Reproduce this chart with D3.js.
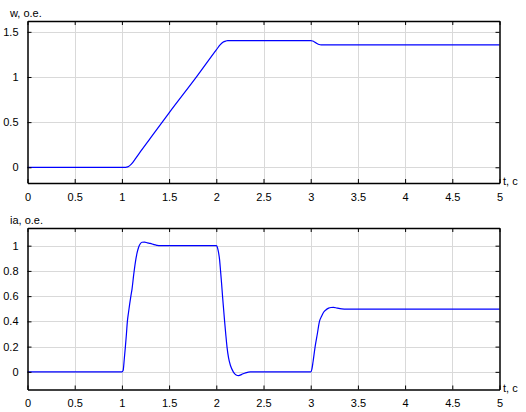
<!DOCTYPE html>
<html>
<head>
<meta charset="utf-8">
<script src="https://cdn.jsdelivr.net/npm/d3@7"></script>
<style>
  body { margin: 0; background: #fff; }
  text { font-family: "Liberation Sans", Arial, sans-serif; font-size: 11px; fill: #000; }
</style>
</head>
<body>
<div id="chart"></div>
<script>
var w = 526;
var h = 412;

// speed w (o.e.) vs time
var tW = [0, 1.04, 1.05, 1.07, 1.10, 1.15, 1.20, 1.30, 1.50, 1.80, 2.00, 2.04, 2.07, 2.10, 2.12, 3.00, 3.02, 3.04, 3.06, 3.08, 3.10, 3.12, 5];
var wVals = [0, 0, 0.001, 0.008, 0.035, 0.105, 0.178, 0.32, 0.603, 1.015, 1.30, 1.355, 1.385, 1.398, 1.402, 1.402, 1.398, 1.388, 1.374, 1.363, 1.357, 1.355, 1.355];

// current ia (o.e.) vs time
var tI = [0, 1.0, 1.013, 1.025, 1.037, 1.048, 1.058, 1.07, 1.083, 1.095, 1.108, 1.125, 1.143, 1.16, 1.178, 1.195, 1.213, 1.24, 1.27, 1.30, 1.34, 1.37, 1.40,
          2.0, 2.007, 2.02, 2.035, 2.045, 2.056, 2.066, 2.077, 2.088, 2.1, 2.113, 2.13, 2.15, 2.18, 2.21, 2.236, 2.27, 2.31, 2.36,
          3.0, 3.012, 3.025, 3.047, 3.07, 3.093, 3.115, 3.135, 3.16, 3.19, 3.215, 3.24, 3.28, 3.33, 3.38, 5];
var iaVals = [0, 0, 0.01, 0.1, 0.2, 0.3, 0.4, 0.47, 0.54, 0.6, 0.66, 0.77, 0.87, 0.94, 0.99, 1.015, 1.027, 1.028, 1.022, 1.018, 1.008, 1.003, 1.0,
              1.0, 0.995, 0.96, 0.887, 0.8, 0.7, 0.6, 0.5, 0.4, 0.3, 0.2, 0.11, 0.05, 0.0, -0.025, -0.03, -0.02, -0.008, 0,
              0, 0.02, 0.08, 0.2, 0.3, 0.4, 0.44, 0.47, 0.49, 0.505, 0.51, 0.511, 0.505, 0.499, 0.497, 0.497];

var xTicks = [0, 0.5, 1, 1.5, 2, 2.5, 3, 3.5, 4, 4.5, 5];
var wTicks = [0, 0.5, 1, 1.5];
var iaTicks = [0, 0.2, 0.4, 0.6, 0.8, 1];

var svg = d3.select("#chart")
            .append("svg")
            .attr("width", w)
            .attr("height", h);

function drawPanel(opt) {
    var x = d3.scaleLinear().domain([0, 5]).range([27.5, 499.5]);
    var y = d3.scaleLinear().domain(opt.yDomain).range([opt.bottom, opt.top]);
    var g = svg.append("g");

    // grid
    g.selectAll(".vgrid").data(xTicks.slice(1, -1)).enter()
        .append("line")
        .attr("x1", d => Math.round(x(d)) + 0.5).attr("x2", d => Math.round(x(d)) + 0.5)
        .attr("y1", opt.top).attr("y2", opt.bottom)
        .attr("stroke", "#d9d9d9");
    g.selectAll(".hgrid").data(opt.yTicks).enter()
        .append("line")
        .attr("x1", x(0)).attr("x2", x(5))
        .attr("y1", d => Math.round(y(d)) + 0.5).attr("y2", d => Math.round(y(d)) + 0.5)
        .attr("stroke", "#d9d9d9");

    // curve
    var line = d3.line()
        .x((d, i) => x(opt.t[i]))
        .y(d => y(d))
        .curve(d3.curveMonotoneX);
    g.append("path")
        .datum(opt.vals)
        .attr("d", line)
        .attr("fill", "none")
        .attr("stroke", "#0000ff")
        .attr("stroke-width", 1.2);

    // axes with inward ticks, mirrored on top and right
    var xAxis = d3.axisBottom(x).tickValues(xTicks).tickSizeInner(-4).tickSizeOuter(0).tickPadding(10)
                  .tickFormat(d3.format("~g"));
    var xTop = d3.axisTop(x).tickValues(xTicks).tickSizeInner(-4).tickSizeOuter(0).tickFormat("");
    var yAxis = d3.axisLeft(y).tickValues(opt.yTicks).tickSizeInner(-4).tickSizeOuter(0).tickPadding(9)
                  .tickFormat(d3.format("~g"));
    var yRight = d3.axisRight(y).tickValues(opt.yTicks).tickSizeInner(-4).tickSizeOuter(0).tickFormat("");

    g.append("g").attr("transform", "translate(0," + opt.bottom + ")").call(xAxis);
    g.append("g").attr("transform", "translate(0," + opt.top + ")").call(xTop);
    g.append("g").attr("transform", "translate(" + x(0) + ",0)").call(yAxis);
    g.append("g").attr("transform", "translate(" + x(5) + ",0)").call(yRight);

    g.selectAll(".domain").attr("stroke", "#000").attr("stroke-width", 1.5);
    g.selectAll(".tick line").attr("stroke", "#000");
    g.selectAll(".tick text").style("font-family", "'Liberation Sans', Arial, sans-serif").style("font-size", "11px").attr("fill", "#000");

    g.append("text").attr("x", 10).attr("y", opt.top - 4).text(opt.title);
    g.append("text").attr("x", 503).attr("y", opt.bottom + 2).text("t, c");
}

drawPanel({ t: tW, vals: wVals, yDomain: [-0.174, 1.62], yTicks: wTicks, top: 21, bottom: 183, title: "w, o.e." });
drawPanel({ t: tI, vals: iaVals, yDomain: [-0.14, 1.14], yTicks: iaTicks, top: 228, bottom: 389.5, title: "ia, o.e." });
</script>
</body>
</html>
